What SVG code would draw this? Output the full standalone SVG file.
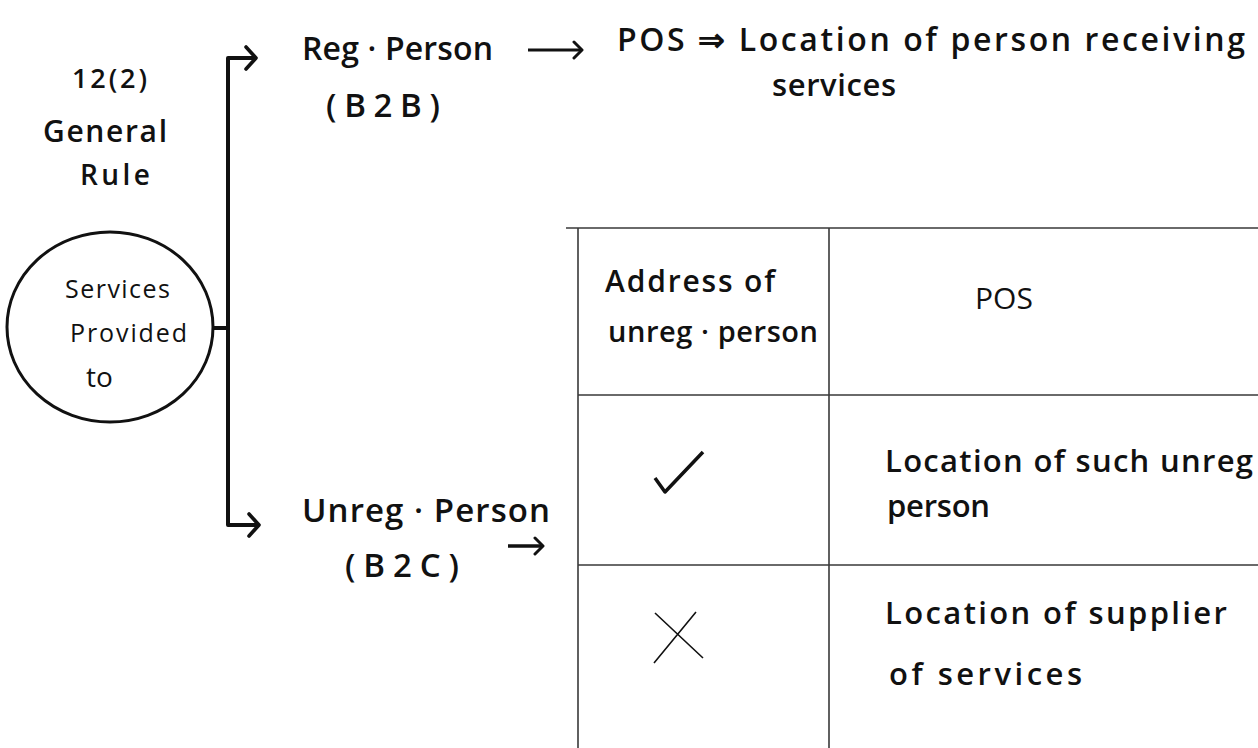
<svg xmlns="http://www.w3.org/2000/svg" width="1258" height="748" viewBox="0 0 1258 748">
  <style>
    text { font-family: "Open Sans", "Noto Sans", sans-serif; fill: #111; }
    .bold { font-weight: 600; }
    .light { font-weight: 400; }
    .ink { fill: none; stroke: #111; stroke-linecap: butt; stroke-linejoin: round; }
    .grid { fill: none; stroke: #3a3a3a; stroke-width: 1.6; }
  </style>
  <defs>
    <!-- open chevron arrowhead, big for the bracket -->
    <marker id="chev" viewBox="0 0 16 26" refX="13" refY="13" markerWidth="16" markerHeight="26" markerUnits="userSpaceOnUse" orient="auto">
      <path d="M3 2 L13 13 L3 24" fill="none" stroke="#111" stroke-width="3.6" stroke-linecap="round" stroke-linejoin="round"/>
    </marker>
    <!-- smaller chevron for the inline arrows -->
    <marker id="chev-s" viewBox="0 0 14 20" refX="11" refY="10" markerWidth="14" markerHeight="20" markerUnits="userSpaceOnUse" orient="auto">
      <path d="M3 2 L11 10 L3 18" fill="none" stroke="#111" stroke-width="3" stroke-linecap="round" stroke-linejoin="round"/>
    </marker>
  </defs>

  <rect width="1258" height="748" fill="#ffffff"/>

  <!-- section heading -->
  <g id="rule-title" class="bold">
    <text x="72" y="88" font-size="27" textLength="75">12(2)</text>
    <text x="43" y="142" font-size="30" textLength="124">General</text>
    <text x="80" y="185" font-size="28" textLength="70">Rule</text>
  </g>

  <!-- root node -->
  <g id="services-node">
    <ellipse cx="110" cy="327" rx="103" ry="95" fill="none" stroke="#111" stroke-width="3"/>
    <g class="light">
      <text x="65" y="298" font-size="25" textLength="105">Services</text>
      <text x="70" y="342" font-size="25" textLength="117">Provided</text>
      <text x="86" y="387" font-size="28">to</text>
    </g>
  </g>

  <!-- branches -->
  <g id="reg-node" class="bold">
    <text x="302" y="60" font-size="32" textLength="191">Reg · Person</text>
    <text x="326" y="117" font-size="33" textLength="114">(B2B)</text>
  </g>

  <g id="pos-rule" class="bold">
    <text x="617" y="51" font-size="32" textLength="628">POS ⇒ Location of person receiving</text>
    <text x="772" y="96" font-size="31" textLength="124">services</text>
  </g>

  <g id="unreg-node" class="bold">
    <text x="302" y="522" font-size="33" textLength="248">Unreg · Person</text>
    <text x="345" y="577" font-size="33" textLength="114">(B2C)</text>
  </g>

  <!-- POS table for unregistered recipients -->
  <g id="pos-table">
    <path class="grid" d="M566 228 H1258 M578 228 V748 M829 228 V748 M578 395 H1258 M578 565 H1258"/>
    <g class="bold">
      <text x="605" y="292" font-size="30" textLength="170">Address of</text>
      <text x="608" y="342" font-size="29" textLength="210">unreg · person</text>
    </g>
    <text class="light" x="975" y="309" font-size="30">POS</text>
    <path class="ink" d="M655 478 L665 492 L703 452" stroke-width="3.5" stroke-linecap="round"/>
    <path class="ink" d="M655 613 L703 658 M696 612 L654 663" stroke-width="1.6"/>
    <g class="bold">
      <text x="885" y="472" font-size="31" textLength="368">Location of such unreg</text>
      <text x="887" y="517" font-size="31" textLength="103">person</text>
      <text x="885" y="624" font-size="31" textLength="342">Location of supplier</text>
      <text x="889" y="685" font-size="31" textLength="193">of services</text>
    </g>
  </g>

  <!-- connectors -->
  <g id="connectors" class="ink">
    <path d="M213 328 H228" stroke-width="4"/>
    <path d="M228 330 V58 H256" stroke-width="4" marker-end="url(#chev)"/>
    <path d="M228 330 V525 H259" stroke-width="4" marker-end="url(#chev)"/>
    <path d="M528 50 H582" stroke-width="3" marker-end="url(#chev-s)"/>
    <path d="M508 546 H543" stroke-width="3.5" marker-end="url(#chev-s)"/>
  </g>
</svg>
